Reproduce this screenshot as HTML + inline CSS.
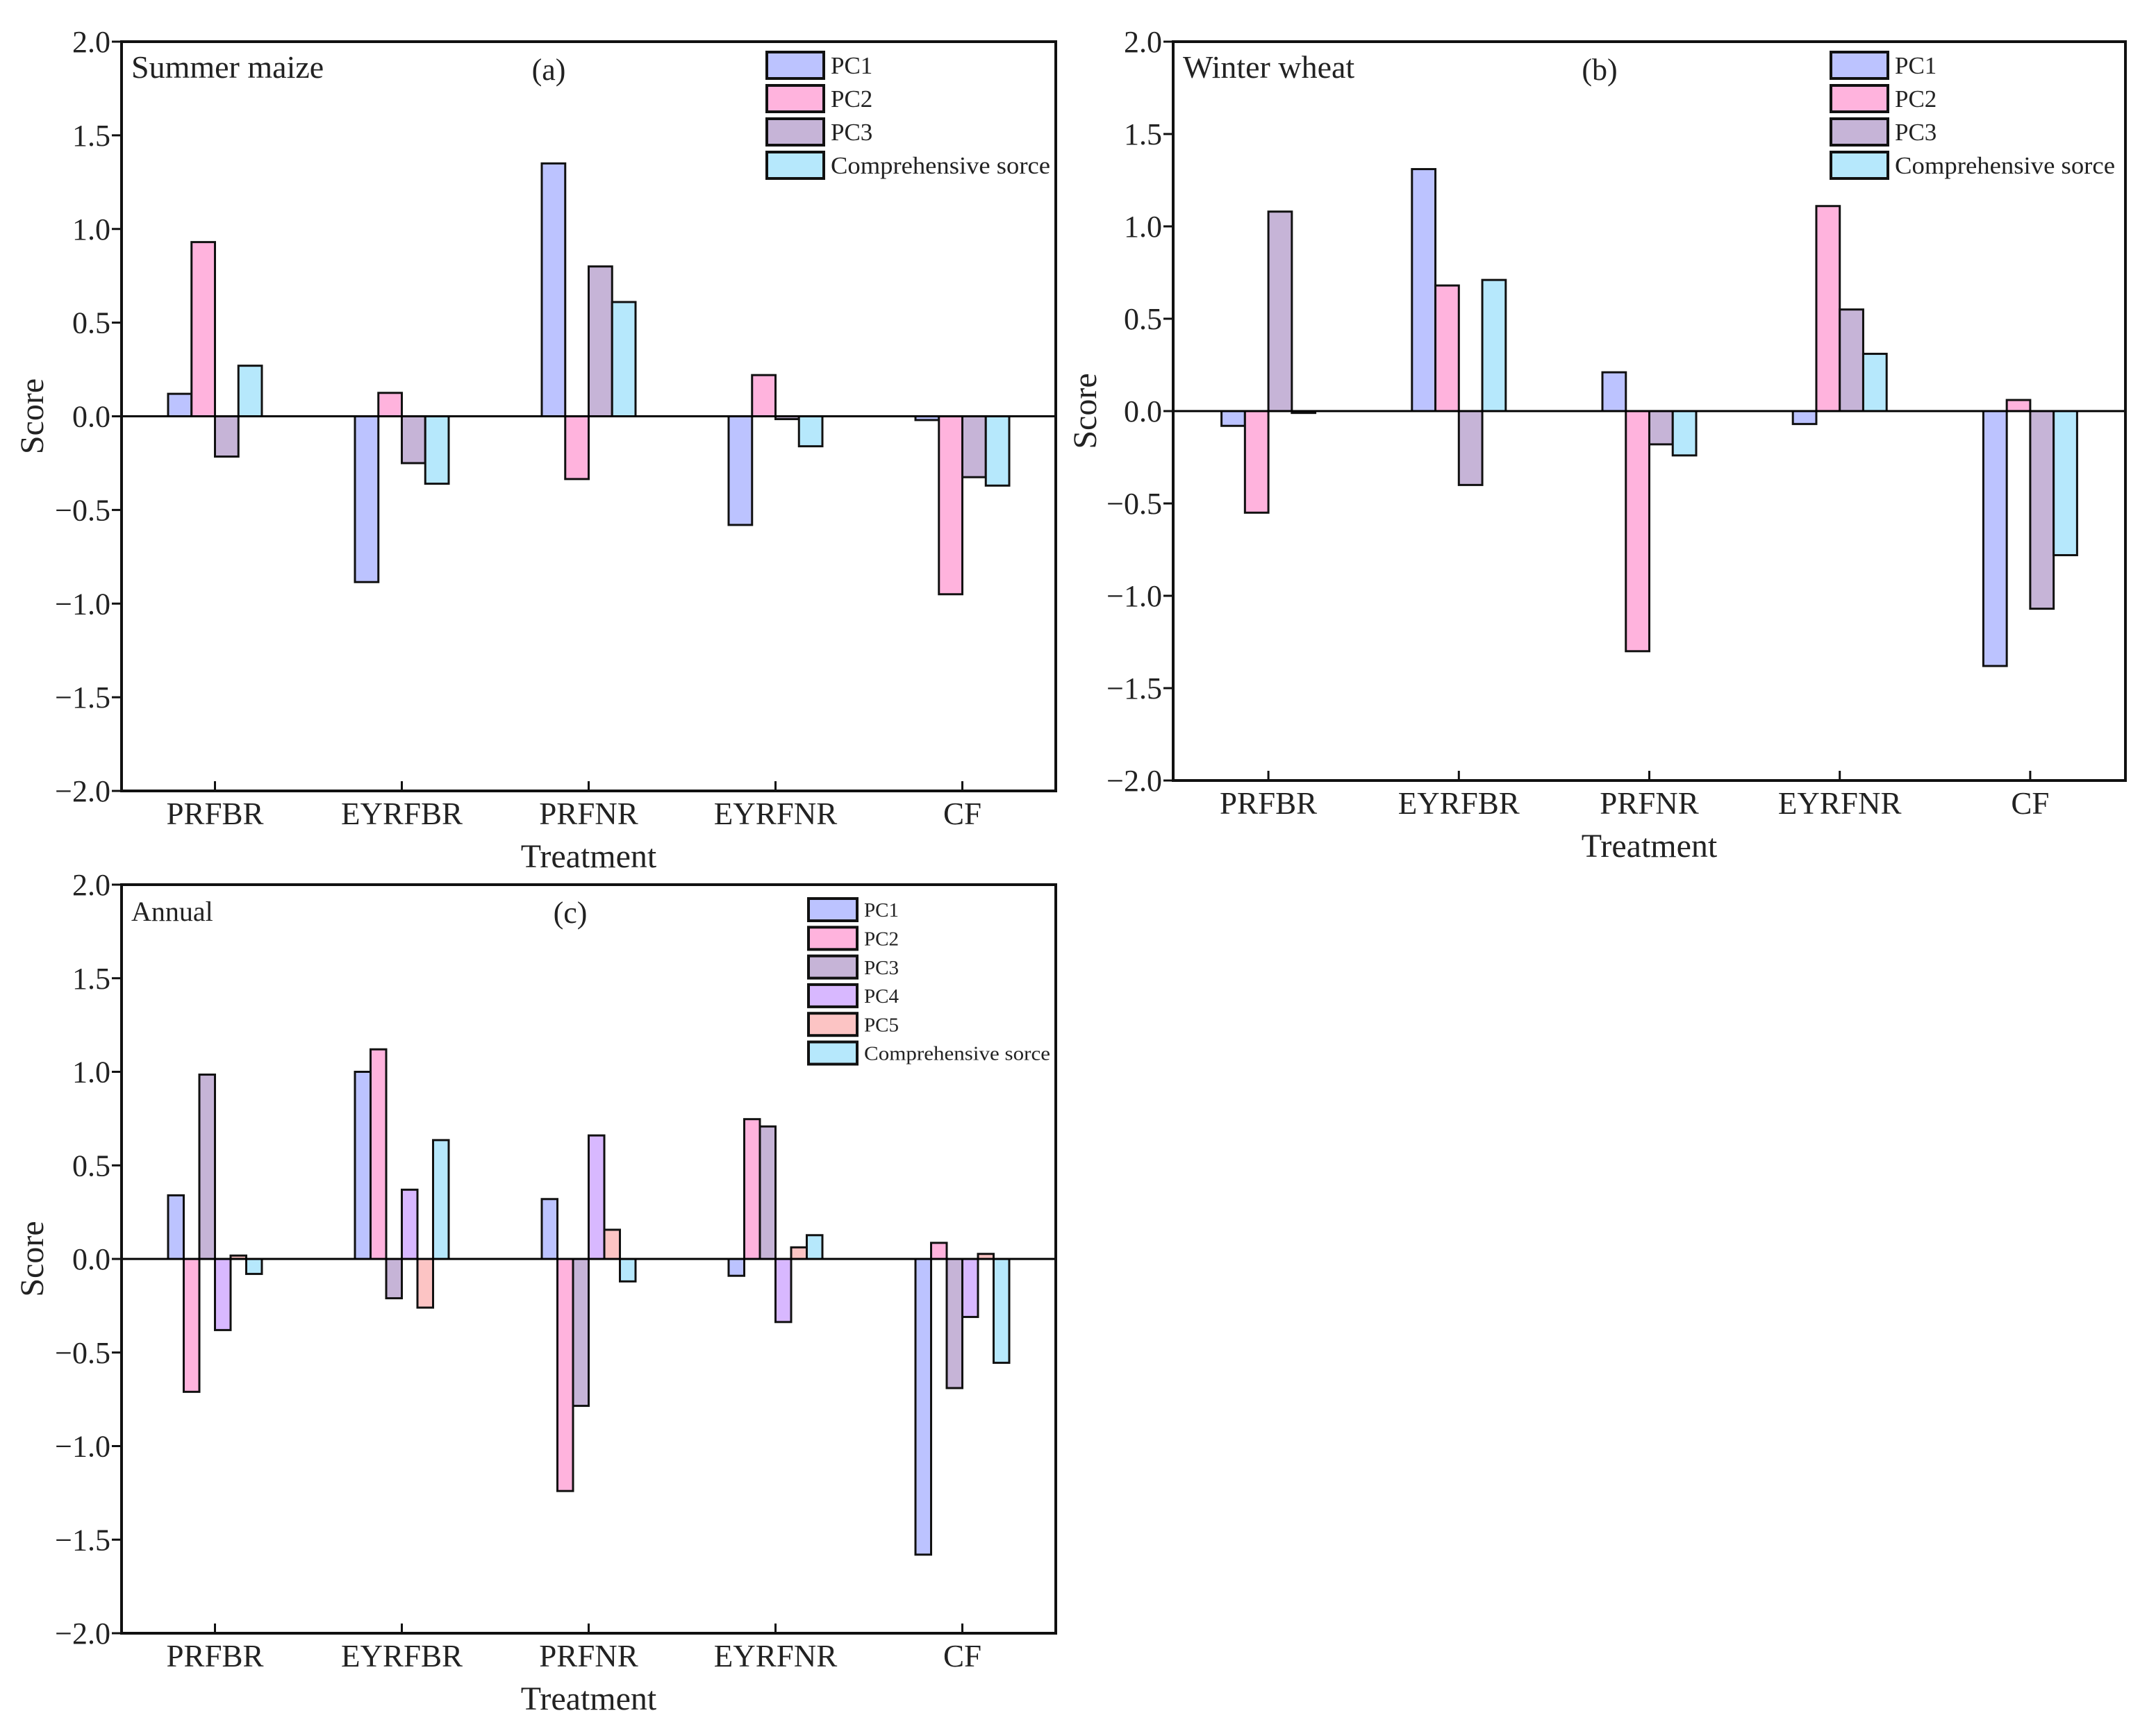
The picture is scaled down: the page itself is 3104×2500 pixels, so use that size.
<!DOCTYPE html>
<html><head><meta charset="utf-8"><style>
html,body{margin:0;padding:0;background:#fff;}
svg{display:block;font-family:"Liberation Serif",serif;}
svg text{font-family:"Liberation Serif",serif;}
</style></head><body>
<svg id="chart" width="3104" height="2500" viewBox="0 0 3104 2500" xmlns="http://www.w3.org/2000/svg" font-family="Liberation Serif, serif"></svg>
<script>
const categories = ["PRFBR","EYRFBR","PRFNR","EYRFNR","CF"];
const yTicks = [2.0,1.5,1.0,0.5,0.0,-0.5,-1.0,-1.5,-2.0];
const yTickLabels = ["2.0","1.5","1.0","0.5","0.0","\u22120.5","\u22121.0","\u22121.5","\u22122.0"];
const seriesNames3 = ["PC1","PC2","PC3","Comprehensive sorce"];
const seriesNames5 = ["PC1","PC2","PC3","PC4","PC5","Comprehensive sorce"];
// Summer maize
const maizePC1 = [0.12,-0.885,1.35,-0.58,-0.02];
const maizePC2 = [0.93,0.125,-0.335,0.22,-0.95];
const maizePC3 = [-0.215,-0.25,0.80,-0.015,-0.325];
const maizeComp = [0.27,-0.36,0.61,-0.16,-0.37];
// Winter wheat
const wheatPC1 = [-0.08,1.31,0.21,-0.07,-1.38];
const wheatPC2 = [-0.55,0.68,-1.30,1.11,0.06];
const wheatPC3 = [1.08,-0.40,-0.18,0.55,-1.07];
const wheatComp = [-0.01,0.71,-0.24,0.31,-0.78];
// Annual
const annualPC1 = [0.34,1.00,0.32,-0.09,-1.58];
const annualPC2 = [-0.71,1.12,-1.24,0.747,0.086];
const annualPC3 = [0.985,-0.21,-0.785,0.708,-0.69];
const annualPC4 = [-0.38,0.37,0.66,-0.337,-0.31];
const annualPC5 = [0.018,-0.26,0.156,0.062,0.027];
const annualComp = [-0.08,0.635,-0.12,0.127,-0.555];

const colors3 = ["#bcc3ff","#ffb3dd","#c6b4d7","#b6e8fc"];
const colors5 = ["#bcc3ff","#ffb3dd","#c6b4d7","#d8b8ff","#fcc4c4","#b6e8fc"];
const NS="http://www.w3.org/2000/svg";
const svg=document.getElementById('chart');
const FF='Liberation Serif, serif';
function mk(tag,attrs,parent,text){const e=document.createElementNS(NS,tag);for(const k in attrs)e.setAttribute(k,attrs[k]);if(tag==='text')e.setAttribute('font-family',FF);if(text!==undefined)e.textContent=text;parent.appendChild(e);return e;}

function panel(cfg){
  const g=mk('g',{},svg);
  
  
  const L=cfg.left,R=cfg.right,T=cfg.top,B=cfg.bottom;
  const yS=v=>T+(2-v)/4*(B-T);
  const step=(R-L)/categories.length;
  const xC=i=>L+(i+0.5)*step;
  const n=cfg.series.length;
  const groupW=135, bw=groupW/n;
  cfg.series.forEach((arr,s)=>{
    arr.forEach((v,i)=>{
      const x=xC(i)-groupW/2+s*bw;
      const y0=yS(0),y1=yS(v);
      const r=mk('rect',{x:x,y:Math.min(y0,y1),width:bw,height:Math.max(Math.abs(y1-y0),1.5),fill:cfg.colors[s],stroke:'#111','stroke-width':3},g);
      
      
    });
  });
  const zl=mk('line',{x1:L,x2:R,y1:yS(0),y2:yS(0),stroke:'#000','stroke-width':3},g);
  
  
  const fr=mk('rect',{x:L,y:T,width:R-L,height:B-T,fill:'none',stroke:'#111','stroke-width':4},g);
  
  
  yTicks.forEach((v,k)=>{
    mk('line',{x1:L-14,x2:L,y1:yS(v),y2:yS(v),stroke:'#111','stroke-width':3},g);
    const t=mk('text',{x:L-16,y:yS(v)+15,'font-size':44,'text-anchor':'end',fill:'#222'},g,yTickLabels[k]);
    
    
  });
  categories.forEach((c,i)=>{
    mk('line',{x1:xC(i),x2:xC(i),y1:B-14,y2:B,stroke:'#111','stroke-width':3},g);
    const t=mk('text',{x:xC(i),y:B+48,'font-size':45,'text-anchor':'middle',fill:'#222'},g,c);
    
    
  });
  const xt=mk('text',{x:(L+R)/2,y:B+110,'font-size':48,'text-anchor':'middle',fill:'#222'},g,'Treatment');
  
  
  const cy=yS(0);
  const yt=mk('text',{x:0,y:0,'font-size':48,'text-anchor':'middle',fill:'#222',transform:'translate('+(cfg.scoreX)+','+cy+') rotate(-90)'},g,'Score');
  
  
  const tt=mk('text',{x:L+14,y:T+52,'font-size':cfg.titleSize,fill:'#222'},g,cfg.title);
  
  
  const lt=mk('text',{x:cfg.letterX,y:T+55,'font-size':44,'text-anchor':'middle',fill:'#222'},g,cfg.letter);
  
  
  const lg=cfg.legend;
  cfg.names.forEach((nm,s)=>{
    const y=lg.y+s*lg.step;
    const r=mk('rect',{x:lg.x,y:y,width:lg.w,height:lg.h,fill:cfg.colors[s],stroke:'#111','stroke-width':4},g);
    
    
    const attrs={x:lg.x+lg.w+10,y:y+lg.h*0.82,'font-size':lg.fs,fill:'#222'};
    if(nm.length>5){attrs.textLength=lg.textEnd-(lg.x+lg.w+10);attrs.lengthAdjust='spacingAndGlyphs';}
    const t=mk('text',attrs,g,nm);
    
    
  });
}
panel({name:'panel-summer-maize',left:175,right:1520,top:60,bottom:1139,series:[maizePC1,maizePC2,maizePC3,maizeComp],colors:colors3,names:seriesNames3,title:'Summer maize',titleSize:46,letter:'(a)',letterX:790,scoreX:62,legend:{x:1104,y:75,w:82,h:38,step:48,fs:35,textEnd:1512}});
panel({name:'panel-winter-wheat',left:1689,right:3060,top:60,bottom:1124,series:[wheatPC1,wheatPC2,wheatPC3,wheatComp],colors:colors3,names:seriesNames3,title:'Winter wheat',titleSize:46,letter:'(b)',letterX:2303,scoreX:1578,legend:{x:2636,y:75,w:82,h:38,step:48,fs:35,textEnd:3045}});
panel({name:'panel-annual',left:175,right:1520,top:1274,bottom:2352,series:[annualPC1,annualPC2,annualPC3,annualPC4,annualPC5,annualComp],colors:colors5,names:seriesNames5,title:'Annual',titleSize:40,letter:'(c)',letterX:821,scoreX:62,legend:{x:1164,y:1294,w:70,h:32,step:41.3,fs:29,textEnd:1512}});
</script>
</body></html>
